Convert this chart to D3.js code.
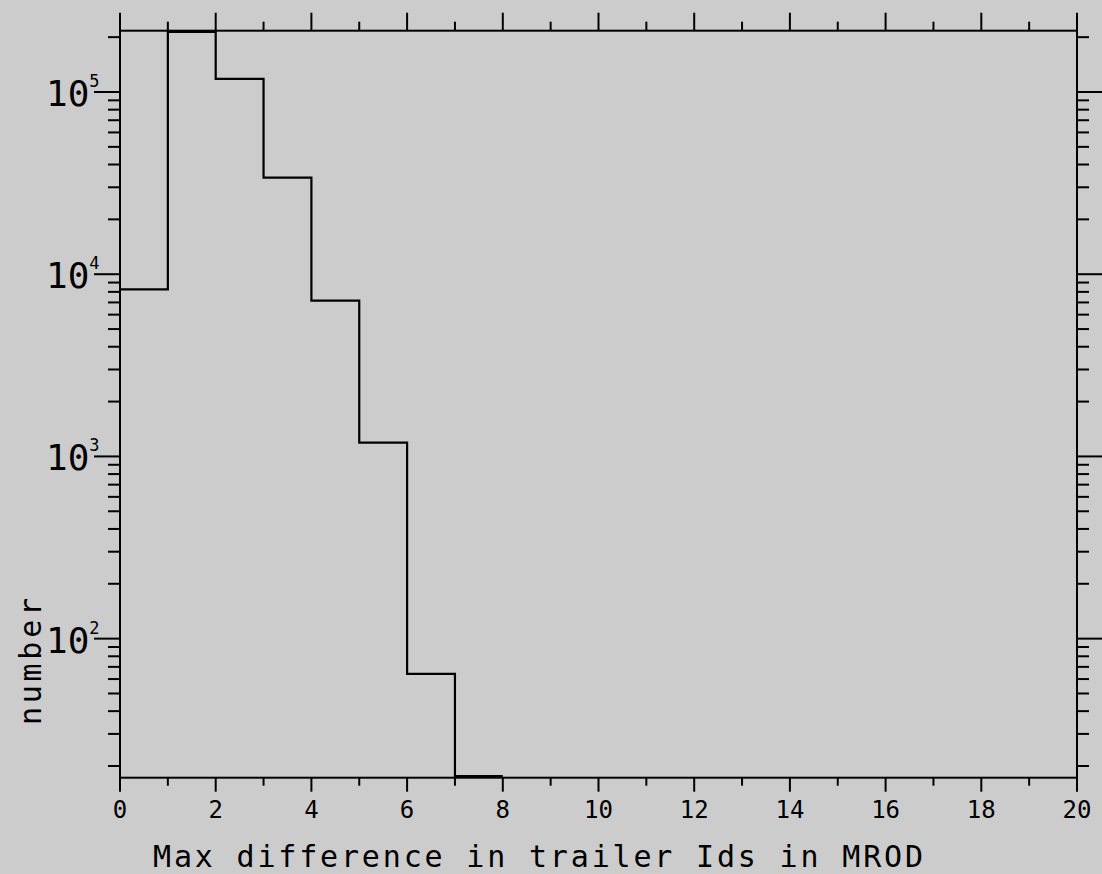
<!DOCTYPE html>
<html>
<head>
<meta charset="utf-8">
<script src="https://cdn.jsdelivr.net/npm/d3@7"></script>
<style>
  html, body { margin: 0; padding: 0; background: #cccccc; }
  svg { display: block; }
  text { font-family: "DejaVu Sans Mono", "Liberation Mono", monospace; fill: #000; }
</style>
</head>
<body>
<svg id="chart" width="1102" height="874"></svg>
<script>
// histogram: bin edges 0..20, one count per unit bin
var binLo = [0, 1, 2, 3, 4, 5, 6, 7, 8, 9, 10, 11, 12, 13, 14, 15, 16, 17, 18, 19];
var counts = [8260, 214000, 118000, 33900, 7170, 1190, 64, 17.6, 0, 0, 0, 0, 0, 0, 0, 0, 0, 0, 0, 0];
var xTicks = [0, 2, 4, 6, 8, 10, 12, 14, 16, 18, 20];
var yDecades = [2, 3, 4, 5];
var xTitle = "Max difference in trailer Ids in MROD";
var yTitle = "number";

var svg = d3.select("#chart");
// note: "top" is taken by window.top, so use plot* names
var plotL = 120, plotR = 1077, plotT = 30.7, plotB = 777.7;

var x = d3.scaleLinear().domain([0, 20]).range([plotL, plotR]);
var y = d3.scaleLog().domain([17.25, 217000]).range([plotB, plotT]);

// frame
svg.append("rect")
    .attr("x", plotL).attr("y", plotT)
    .attr("width", plotR - plotL).attr("height", plotB - plotT)
    .style("fill", "none")
    .style("stroke", "#000")
    .style("stroke-width", 2);

// x ticks, top and bottom
var xAll = d3.range(0, 21);
xAll.forEach(function(v) {
    var major = v % 2 == 0;
    svg.append("line")
        .attr("x1", x(v)).attr("x2", x(v))
        .attr("y1", plotT).attr("y2", plotT - (major ? 18 : 9))
        .style("stroke", "#000").style("stroke-width", 2);
    svg.append("line")
        .attr("x1", x(v)).attr("x2", x(v))
        .attr("y1", plotB).attr("y2", plotB + (major ? 14 : 8))
        .style("stroke", "#000").style("stroke-width", 2);
});

svg.selectAll(".xlab")
    .data(xTicks)
    .enter()
    .append("text")
    .attr("class", "xlab")
    .attr("x", function(d) { return x(d); })
    .attr("y", 818)
    .attr("text-anchor", "middle")
    .style("font-size", "24px")
    .text(function(d) { return d; });

// y ticks, left and right: decades long, 2..9 short
var yMinor = [];
[1, 2, 3, 4, 5].forEach(function(k) {
    for (var m = 1; m <= 9; m++) {
        var v = m * Math.pow(10, k);
        if (v >= y.domain()[0] && v <= y.domain()[1]) {
            yMinor.push({ v: v, major: m == 1 });
        }
    }
});

yMinor.forEach(function(t) {
    svg.append("line")
        .attr("x1", plotL).attr("x2", plotL - (t.major ? 26 : 12))
        .attr("y1", y(t.v)).attr("y2", y(t.v))
        .style("stroke", "#000").style("stroke-width", 2);
    svg.append("line")
        .attr("x1", plotR).attr("x2", plotR + (t.major ? 26 : 12))
        .attr("y1", y(t.v)).attr("y2", y(t.v))
        .style("stroke", "#000").style("stroke-width", 2);
});

// decade labels 10^k, one text with a raised exponent
yDecades.forEach(function(k) {
    var yy = y(Math.pow(10, k));
    var lab = svg.append("text")
        .attr("x", 46)
        .attr("y", yy + 14)
        .style("font-size", "36px");
    lab.append("tspan").text("10");
    lab.append("tspan")
        .attr("dy", -19)
        .style("font-size", "17px")
        .text(k);
});

// histogram outline
var pts = [];
for (var i = 0; i < binLo.length; i++) {
    if (counts[i] > 0) {
        pts.push([binLo[i], counts[i]]);
        pts.push([binLo[i] + 1, counts[i]]);
    }
}
var line = d3.line()
    .x(function(d) { return x(d[0]); })
    .y(function(d) { return y(d[1]); });

svg.append("path")
    .attr("d", line(pts))
    .style("fill", "none")
    .style("stroke", "#000")
    .style("stroke-width", 2.2);

// axis titles
svg.append("text")
    .attr("x", 153)
    .attr("y", 867)
    .attr("textLength", 770)
    .attr("lengthAdjust", "spacing")
    .style("font-size", "30px")
    .text(xTitle);

svg.append("text")
    .attr("transform", "translate(41,725) rotate(-90)")
    .attr("textLength", 127)
    .attr("lengthAdjust", "spacing")
    .style("font-size", "30px")
    .text(yTitle);
</script>
</body>
</html>
